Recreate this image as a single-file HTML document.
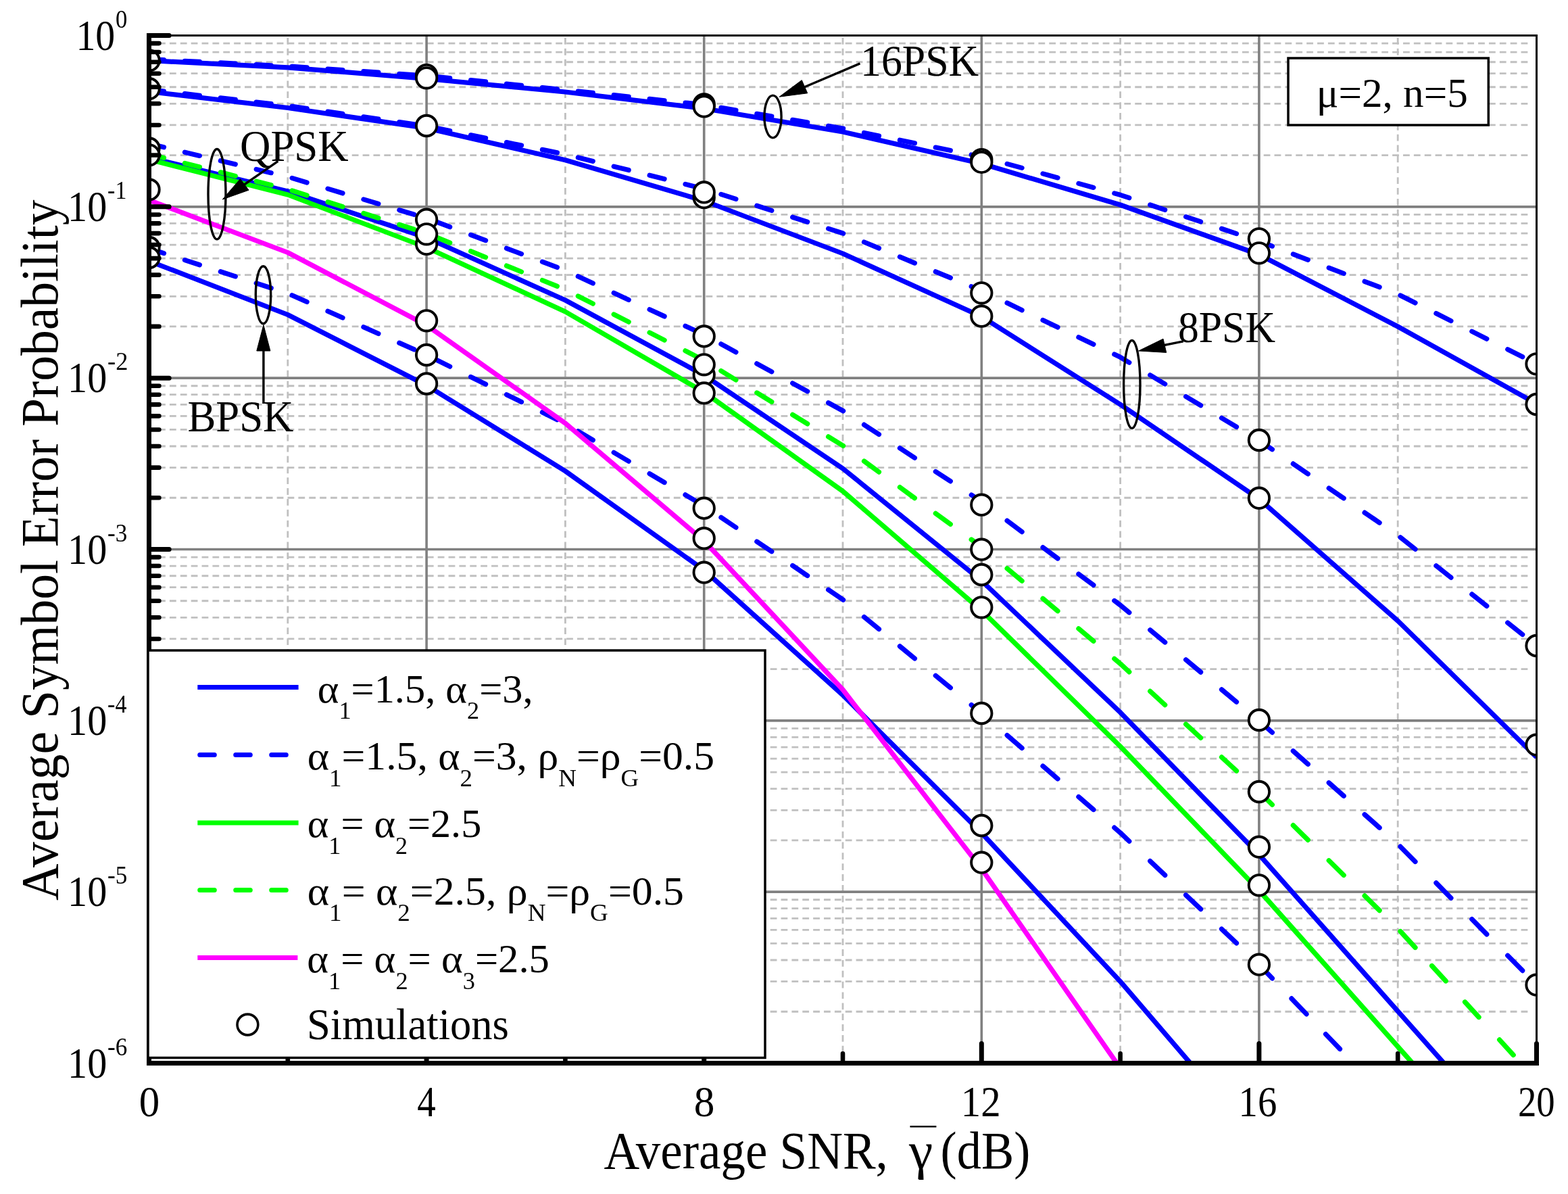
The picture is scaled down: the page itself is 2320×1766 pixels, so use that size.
<!DOCTYPE html><html><head><meta charset="utf-8"><title>Average Symbol Error Probability vs Average SNR</title>
<style>html,body{margin:0;padding:0;background:#fff;overflow:hidden}svg{display:block}</style></head><body>
<svg xmlns="http://www.w3.org/2000/svg" width="2320" height="1766" viewBox="0 0 2320 1766">
<defs><clipPath id="pc"><rect x="220.5" y="52.5" width="2053" height="1520"/></clipPath></defs>
<rect width="2320" height="1766" fill="#fff"/>
<path d="M219.2 229.57H2262M219.2 184.96H2262M219.2 153.31H2262M219.2 128.76H2262M219.2 108.7H2262M219.2 91.74H2262M219.2 77.05H2262M219.2 64.09H2262M219.2 482.91H2262M219.2 438.3H2262M219.2 406.64H2262M219.2 382.09H2262M219.2 362.04H2262M219.2 345.08H2262M219.2 330.38H2262M219.2 317.43H2262M219.2 736.24H2262M219.2 691.63H2262M219.2 659.98H2262M219.2 635.43H2262M219.2 615.37H2262M219.2 598.41H2262M219.2 583.72H2262M219.2 570.76H2262M219.2 989.57H2262M219.2 944.96H2262M219.2 913.31H2262M219.2 888.76H2262M219.2 868.7H2262M219.2 851.74H2262M219.2 837.05H2262M219.2 824.09H2262M219.2 1242.91H2262M219.2 1198.3H2262M219.2 1166.64H2262M219.2 1142.09H2262M219.2 1122.04H2262M219.2 1105.08H2262M219.2 1090.38H2262M219.2 1077.43H2262M219.2 1496.24H2262M219.2 1451.63H2262M219.2 1419.98H2262M219.2 1395.43H2262M219.2 1375.37H2262M219.2 1358.41H2262M219.2 1343.72H2262M219.2 1330.76H2262" stroke="#c0c0c0" stroke-width="2.8" stroke-dasharray="9.8 6.07" fill="none"/>
<path d="M425.8 1572.5V55M836.4 1572.5V55M1247 1572.5V55M1657.6 1572.5V55M2068.2 1572.5V55" stroke="#c0c0c0" stroke-width="2.8" stroke-dasharray="9.8 6.06" fill="none"/>
<path d="M220.5 305.83H2273.5M220.5 559.17H2273.5M220.5 812.5H2273.5M220.5 1065.83H2273.5M220.5 1319.17H2273.5M631.1 52.5V1572.5M1041.7 52.5V1572.5M1452.3 52.5V1572.5M1862.9 52.5V1572.5" stroke="#808080" stroke-width="3.6" fill="none"/>
<g clip-path="url(#pc)">
<path d="M220.5 89.5 L425.8 99.8 L631.1 116.5 L836.4 136 L1041.7 160.5 L1247 195 L1452.3 242 L1657.6 303 L1862.9 376.5 L2068.2 483 L2273.5 597" stroke="#0000ff" stroke-width="7.2" fill="none" stroke-linejoin="round"/>
<path d="M220.5 135.5 L425.8 159.5 L631.1 189.5 L836.4 236.7 L1041.7 297 L1247 375 L1452.3 468.3 L1657.6 598.3 L1862.9 738 L2068.2 918.3 L2273.5 1120" stroke="#0000ff" stroke-width="7.2" fill="none" stroke-linejoin="round"/>
<path d="M220.5 233 L425.8 283 L631.1 351.5 L836.4 444 L1041.7 555 L1247 693 L1452.3 859 L1657.6 1053.7 L1862.9 1264 L2068.2 1495.6 L2273.5 1727" stroke="#0000ff" stroke-width="7.2" fill="none" stroke-linejoin="round"/>
<path d="M220.5 386 L425.8 465.5 L631.1 570 L836.4 696.7 L1041.7 843.3 L1247 1028 L1452.3 1232 L1657.6 1451.7 L1862.9 1691" stroke="#0000ff" stroke-width="7.2" fill="none" stroke-linejoin="round"/>
<path d="M220.5 87.6 L242.5 88.71M273.4 90.28 L295.4 91.39M326.3 92.96 L348.3 94.07M379.2 95.64 L401.2 96.75M432.1 98.43 L454.1 99.93M485 102.04 L507 103.54M537.9 105.64 L559.9 107.14M590.8 109.25 L612.8 110.75M643.7 113.29 L665.7 115.54M696.6 118.7 L718.6 120.95M749.5 124.11 L771.5 126.36M802.4 129.52 L824.4 131.77M855.3 135.03 L877.3 137.38M908.2 140.69 L930.2 143.05M961.1 146.36 L983.1 148.72M1014 152.03 L1036 154.39M1066.9 159.3 L1088.9 163.05M1119.8 168.31 L1141.8 172.07M1172.7 177.33 L1194.7 181.08M1225.6 186.35 L1247 190 L1247.6 190.12M1278.5 196.44 L1300.5 200.94M1331.4 207.27 L1353.4 211.77M1384.3 218.09 L1406.3 222.59M1437.2 228.91 L1452.3 232 L1459.2 233.89M1490.1 242.37 L1512.1 248.4M1543 256.87 L1565 262.91M1595.9 271.38 L1617.9 277.41M1648.8 285.89 L1657.6 288.3 L1670.8 292.7M1701.7 302.99 L1723.7 310.32M1754.6 320.62 L1776.6 327.95M1807.5 338.24 L1829.5 345.57M1860.4 355.87 L1862.9 356.7 L1882.4 364.14M1913.3 375.92 L1935.3 384.31M1966.2 396.1 L1988.2 404.49M2019.1 416.27 L2041.1 424.66M2072 436.91 L2094 447.98M2124.9 463.53 L2146.9 474.6M2177.8 490.15 L2199.8 501.22M2230.7 516.76 L2252.7 527.83" stroke="#0000ff" stroke-width="7.2" fill="none" stroke-linecap="round" stroke-linejoin="round"/>
<path d="M220.5 132.5 L242.5 135.07M273.4 138.68 L295.4 141.26M326.3 144.87 L348.3 147.44M379.2 151.05 L401.2 153.62M432.1 157.42 L454.1 160.64M485 165.15 L507 168.37M537.9 172.88 L559.9 176.1M590.8 180.61 L612.8 183.83M643.7 189.07 L665.7 193.54M696.6 199.84 L718.6 204.32M749.5 210.61 L771.5 215.09M802.4 221.38 L824.4 225.86M855.3 233 L877.3 238.46M908.2 246.14 L930.2 251.6M961.1 259.28 L983.1 264.74M1014 272.42 L1036 277.88M1066.9 287.36 L1088.9 294.4M1119.8 304.29 L1141.8 311.33M1172.7 321.22 L1194.7 328.26M1225.6 338.15 L1247 345 L1247.6 345.25M1278.5 358.04 L1300.5 367.15M1331.4 379.94 L1353.4 389.05M1384.3 401.85 L1406.3 410.95M1437.2 423.75 L1452.3 430 L1459.2 433.3M1490.1 448.1 L1512.1 458.63M1543 473.43 L1565 483.96M1595.9 498.76 L1617.9 509.29M1648.8 524.09 L1657.6 528.3 L1670.8 536.22M1701.7 554.76 L1723.7 567.97M1754.6 586.51 L1776.6 599.71M1807.5 618.25 L1829.5 631.46M1860.4 650 L1862.9 651.5 L1882.4 664.82M1913.3 685.92 L1935.3 700.94M1966.2 722.04 L1988.2 737.07M2019.1 758.17 L2041.1 773.19M2072 794.72 L2094 812.22M2124.9 836.8 L2146.9 854.3M2177.8 878.88 L2199.8 896.38M2230.7 920.96 L2252.7 938.46" stroke="#0000ff" stroke-width="7.2" fill="none" stroke-linecap="round" stroke-linejoin="round"/>
<path d="M220.5 212.5 L242.5 217.75M273.4 225.13 L295.4 230.38M326.3 237.75 L348.3 243M379.2 250.38 L401.2 255.63M432.1 263.38 L454.1 269.94M485 279.15 L507 285.71M537.9 294.92 L559.9 301.48M590.8 310.69 L612.8 317.24M643.7 327.44 L665.7 335.73M696.6 347.36 L718.6 355.65M749.5 367.28 L771.5 375.56M802.4 387.2 L824.4 395.48M855.3 408.75 L877.3 418.93M908.2 433.22 L930.2 443.4M961.1 457.7 L983.1 467.88M1014 482.18 L1036 492.36M1066.9 508.81 L1088.9 520.86M1119.8 537.8 L1141.8 549.85M1172.7 566.79 L1194.7 578.84M1225.6 595.77 L1247 607.5 L1247.6 607.89M1278.5 628.14 L1300.5 642.55M1331.4 662.79 L1353.4 677.21M1384.3 697.45 L1406.3 711.86M1437.2 732.11 L1452.3 742 L1459.2 747.14M1490.1 770.17 L1512.1 786.57M1543 809.59 L1565 825.99M1595.9 849.02 L1617.9 865.41M1648.8 888.44 L1657.6 895 L1670.8 905.99M1701.7 931.73 L1723.7 950.06M1754.6 975.79 L1776.6 994.12M1807.5 1019.86 L1829.5 1038.18M1860.4 1063.92 L1862.9 1066 L1882.4 1083.32M1913.3 1110.75 L1935.3 1130.29M1966.2 1157.73 L1988.2 1177.26M2019.1 1204.7 L2041.1 1224.24M2072 1252.16 L2094 1274.49M2124.9 1305.86 L2146.9 1328.19M2177.8 1359.55 L2199.8 1381.89M2230.7 1413.25 L2252.7 1435.59" stroke="#0000ff" stroke-width="7.2" fill="none" stroke-linecap="round" stroke-linejoin="round"/>
<path d="M220.5 367.5 L242.5 374.63M273.4 384.64 L295.4 391.76M326.3 401.77 L348.3 408.9M379.2 418.91 L401.2 426.03M432.1 436.79 L454.1 446.54M485 460.24 L507 469.99M537.9 483.69 L559.9 493.44M590.8 507.14 L612.8 516.89M643.7 531.24 L665.7 542.14M696.6 557.45 L718.6 568.35M749.5 583.65 L771.5 594.55M802.4 609.86 L824.4 620.76M855.3 637.89 L877.3 650.93M908.2 669.23 L930.2 682.26M961.1 700.56 L983.1 713.59M1014 731.89 L1036 744.92M1066.9 765.29 L1088.9 780.12M1119.8 800.95 L1141.8 815.78M1172.7 836.61 L1194.7 851.44M1225.6 872.27 L1247 886.7 L1247.6 887.19M1278.5 912.52 L1300.5 930.56M1331.4 955.89 L1353.4 973.92M1384.3 999.26 L1406.3 1017.29M1437.2 1042.62 L1452.3 1055 L1459.2 1060.94M1490.1 1087.53 L1512.1 1106.47M1543 1133.06 L1565 1152M1595.9 1178.6 L1617.9 1197.53M1648.8 1224.13 L1657.6 1231.7 L1670.8 1244.24M1701.7 1273.59 L1723.7 1294.48M1754.6 1323.83 L1776.6 1344.73M1807.5 1374.08 L1829.5 1394.98M1860.4 1424.33 L1862.9 1426.7 L1882.4 1447.05M1911 1476.91 L1933 1499.87M1961.5 1529.62 L1982.5 1551.54" stroke="#0000ff" stroke-width="7.2" fill="none" stroke-linecap="round" stroke-linejoin="round"/>
<path d="M220.5 236 L425.8 288 L631.1 366 L836.4 461 L1041.7 580 L1247 726.5 L1452.3 903 L1657.6 1104 L1862.9 1317 L2068.2 1548 L2273.5 1779" stroke="#00ff00" stroke-width="7.2" fill="none" stroke-linejoin="round"/>
<path d="M220.5 228 L242.5 233.57M273.4 241.4 L295.4 246.97M326.3 254.8 L348.3 260.37M379.2 268.2 L401.2 273.77M432.1 281.99 L454.1 288.96M485 298.74 L507 305.71M537.9 315.49 L559.9 322.46M590.8 332.24 L612.8 339.21M643.7 350.11 L665.7 359.04M696.6 371.58 L718.6 380.5M749.5 393.04 L771.5 401.97M802.4 414.5 L824.4 423.43M855.3 437.94 L877.3 449.16M908.2 464.92 L930.2 476.14M961.1 491.9 L983.1 503.11M1014 518.87 L1036 530.09M1066.9 548.47 L1088.9 561.97M1119.8 580.93 L1141.8 594.43M1172.7 613.4 L1194.7 626.9M1225.6 645.87 L1247 659 L1247.6 659.44M1278.5 682.02 L1300.5 698.09M1331.4 720.67 L1353.4 736.74M1384.3 759.32 L1406.3 775.39M1437.2 797.97 L1452.3 809 L1459.2 814.8M1490.1 840.8 L1512.1 859.3M1543 885.3 L1565 903.8M1595.9 929.8 L1617.9 948.3M1648.8 974.3 L1657.6 981.7 L1670.8 993.87M1701.7 1022.36 L1723.7 1042.65M1754.6 1071.14 L1776.6 1091.43M1807.5 1119.92 L1829.5 1140.2M1860.4 1168.69 L1862.9 1171 L1882.4 1190.22M1913.3 1220.66 L1935.3 1242.34M1966.2 1272.79 L1988.2 1294.47M2019.1 1324.92 L2041.1 1346.6M2072 1377.46 L2094 1401.54M2118.6 1428.46 L2139.2 1451.01M2167.5 1481.98 L2188.1 1504.53M2218.6 1537.91 L2239.2 1560.46" stroke="#00ff00" stroke-width="7.2" fill="none" stroke-linecap="round" stroke-linejoin="round"/>
<path d="M220.5 296 L425.8 373.5 L631.1 481 L836.4 626 L1041.7 800 L1247 1020 L1452.3 1285 L1657.6 1580" stroke="#ff00ff" stroke-width="7.2" fill="none" stroke-linejoin="round"/>
<g fill="#fff" stroke="#000" stroke-width="3.9"><circle cx="220.5" cy="89.4" r="15.2"/><circle cx="220.5" cy="131.2" r="15.2"/><circle cx="220.5" cy="219.5" r="15.2"/><circle cx="220.5" cy="229.3" r="15.2"/><circle cx="220.5" cy="280.4" r="15.2"/><circle cx="220.5" cy="366" r="15.2"/><circle cx="220.5" cy="381" r="15.2"/><circle cx="631.1" cy="111.1" r="15.2"/><circle cx="631.1" cy="115.3" r="15.2"/><circle cx="631.1" cy="186" r="15.2"/><circle cx="631.1" cy="324.7" r="15.2"/><circle cx="631.1" cy="360.9" r="15.2"/><circle cx="631.1" cy="346.3" r="15.2"/><circle cx="631.1" cy="474.3" r="15.2"/><circle cx="631.1" cy="525" r="15.2"/><circle cx="631.1" cy="567.5" r="15.2"/><circle cx="1041.7" cy="154.3" r="15.2"/><circle cx="1041.7" cy="157.4" r="15.2"/><circle cx="1041.7" cy="292.2" r="15.2"/><circle cx="1041.7" cy="284.4" r="15.2"/><circle cx="1041.7" cy="497.4" r="15.2"/><circle cx="1041.7" cy="554.3" r="15.2"/><circle cx="1041.7" cy="539.3" r="15.2"/><circle cx="1041.7" cy="581.4" r="15.2"/><circle cx="1041.7" cy="751.7" r="15.2"/><circle cx="1041.7" cy="796.2" r="15.2"/><circle cx="1041.7" cy="846.7" r="15.2"/><circle cx="1452.3" cy="236.1" r="15.2"/><circle cx="1452.3" cy="239.9" r="15.2"/><circle cx="1452.3" cy="433.3" r="15.2"/><circle cx="1452.3" cy="467.7" r="15.2"/><circle cx="1452.3" cy="746.7" r="15.2"/><circle cx="1452.3" cy="812.7" r="15.2"/><circle cx="1452.3" cy="850" r="15.2"/><circle cx="1452.3" cy="898.3" r="15.2"/><circle cx="1452.3" cy="1055" r="15.2"/><circle cx="1452.3" cy="1221" r="15.2"/><circle cx="1452.3" cy="1275.7" r="15.2"/><circle cx="1862.9" cy="353.3" r="15.2"/><circle cx="1862.9" cy="374.3" r="15.2"/><circle cx="1862.9" cy="651" r="15.2"/><circle cx="1862.9" cy="736.7" r="15.2"/><circle cx="1862.9" cy="1065" r="15.2"/><circle cx="1862.9" cy="1171" r="15.2"/><circle cx="1862.9" cy="1252.7" r="15.2"/><circle cx="1862.9" cy="1309.3" r="15.2"/><circle cx="1862.9" cy="1426.7" r="15.2"/><circle cx="2273.5" cy="538.3" r="15.2"/><circle cx="2273.5" cy="598" r="15.2"/><circle cx="2273.5" cy="955" r="15.2"/><circle cx="2273.5" cy="1101.7" r="15.2"/><circle cx="2273.5" cy="1456.7" r="15.2"/></g>
</g>
<path d="M217 52.5H2275" stroke="#000" stroke-width="3" fill="none"/><path d="M2273.5 51V1572.5" stroke="#000" stroke-width="3" fill="none"/><path d="M220.5 49V1576" stroke="#000" stroke-width="7" fill="none"/><path d="M217 1572.5H2277" stroke="#000" stroke-width="7" fill="none"/><path d="M220.5 52.5H250.2M220.5 305.83H250.2M220.5 559.17H250.2M220.5 812.5H250.2M220.5 1065.83H250.2M220.5 1319.17H250.2M220.5 1572.5H250.2M220.5 1572.5V1543.5M631.1 1572.5V1543.5M1041.7 1572.5V1543.5M1452.3 1572.5V1543.5M1862.9 1572.5V1543.5M2273.5 1572.5V1543.5" stroke="#000" stroke-width="7" fill="none" stroke-linecap="round"/><path d="M220.5 229.57H235.4M220.5 184.96H235.4M220.5 153.31H235.4M220.5 128.76H235.4M220.5 108.7H235.4M220.5 91.74H235.4M220.5 77.05H235.4M220.5 64.09H235.4M220.5 482.91H235.4M220.5 438.3H235.4M220.5 406.64H235.4M220.5 382.09H235.4M220.5 362.04H235.4M220.5 345.08H235.4M220.5 330.38H235.4M220.5 317.43H235.4M220.5 736.24H235.4M220.5 691.63H235.4M220.5 659.98H235.4M220.5 635.43H235.4M220.5 615.37H235.4M220.5 598.41H235.4M220.5 583.72H235.4M220.5 570.76H235.4M220.5 989.57H235.4M220.5 944.96H235.4M220.5 913.31H235.4M220.5 888.76H235.4M220.5 868.7H235.4M220.5 851.74H235.4M220.5 837.05H235.4M220.5 824.09H235.4M220.5 1242.91H235.4M220.5 1198.3H235.4M220.5 1166.64H235.4M220.5 1142.09H235.4M220.5 1122.04H235.4M220.5 1105.08H235.4M220.5 1090.38H235.4M220.5 1077.43H235.4M220.5 1496.24H235.4M220.5 1451.63H235.4M220.5 1419.98H235.4M220.5 1395.43H235.4M220.5 1375.37H235.4M220.5 1358.41H235.4M220.5 1343.72H235.4M220.5 1330.76H235.4M425.8 1572.5V1558.3M836.4 1572.5V1558.3M1247 1572.5V1558.3M1657.6 1572.5V1558.3M2068.2 1572.5V1558.3" stroke="#000" stroke-width="6.6" fill="none" stroke-linecap="round"/>
<g fill="none" stroke="#000" stroke-width="3.4"><ellipse cx="321" cy="287.2" rx="13" ry="66.7"/><ellipse cx="389.5" cy="436.3" rx="11.2" ry="42.5"/><ellipse cx="1143.5" cy="172.5" rx="12.6" ry="31.4"/><ellipse cx="1674.8" cy="568.5" rx="12.2" ry="65"/><path d="M411.4 238.3L350 281"/><path d="M389.9 597V515"/><path d="M1272.5 93.9L1185 131"/><path d="M1750.7 504.8L1715 512"/></g><g fill="#000" stroke="#000" stroke-width="1" stroke-linejoin="miter"><path d="M329.3 294.9L355.5 264.5L368 281.2Z"/><path d="M389.9 480.5L379.8 519L399.9 519Z"/><path d="M1153.1 143.2L1186.3 118.6L1194.7 137.8Z"/><path d="M1684.6 519L1721 501.2L1725.7 521.4Z"/></g>
<rect x="219" y="962" width="913" height="602.5" fill="#fff" stroke="#000" stroke-width="3.5"/><path d="M292.3 1016.6H441.6" stroke="#0000ff" stroke-width="7" stroke-linecap="butt"/><path d="M295.7 1116.5H317.3M348.7 1116.5H370.3M401.7 1116.5H423.3" stroke="#0000ff" stroke-width="7" stroke-linecap="round"/><path d="M292.3 1217H441.6" stroke="#00ff00" stroke-width="7"/><path d="M295.7 1316.5H317.3M348.7 1316.5H370.3M401.7 1316.5H423.3" stroke="#00ff00" stroke-width="7" stroke-linecap="round"/><path d="M292.3 1416.4H440.4" stroke="#ff00ff" stroke-width="7"/><circle cx="366.4" cy="1515.5" r="15.4" fill="#fff" stroke="#000" stroke-width="3.6"/>
<rect x="1906" y="86" width="296.3" height="99" fill="#fff" stroke="#000" stroke-width="3.5"/>
<g font-family="'Liberation Serif', 'Times New Roman', serif" fill="#000"><text transform="translate(112.43 73.8) scale(0.9109 1)" font-size="63.5">10</text><text transform="translate(171.07 40.8) scale(0.9250 1)" font-size="37.5">0</text><text transform="translate(100.1 327.13) scale(0.9164 1)" font-size="63.5">10</text><text transform="translate(159.1 294.13) scale(0.9036 1)" font-size="37.5">-1</text><text transform="translate(100.1 580.47) scale(0.9164 1)" font-size="63.5">10</text><text transform="translate(159.03 547.47) scale(0.9714 1)" font-size="37.5">-2</text><text transform="translate(100.1 833.8) scale(0.9164 1)" font-size="63.5">10</text><text transform="translate(159.06 800.8) scale(0.9379 1)" font-size="37.5">-3</text><text transform="translate(100.1 1087.13) scale(0.9164 1)" font-size="63.5">10</text><text transform="translate(159.09 1054.13) scale(0.9067 1)" font-size="37.5">-4</text><text transform="translate(100.1 1340.47) scale(0.9164 1)" font-size="63.5">10</text><text transform="translate(159.06 1307.47) scale(0.9379 1)" font-size="37.5">-5</text><text transform="translate(100.1 1593.8) scale(0.9164 1)" font-size="63.5">10</text><text transform="translate(159.06 1560.8) scale(0.9379 1)" font-size="37.5">-6</text><text transform="translate(205.63 1650.9) scale(0.9593 1)" font-size="63.5">0</text><text transform="translate(617.23 1650.9) scale(0.8667 1)" font-size="63.5">4</text><text transform="translate(1026.77 1650.9) scale(0.9630 1)" font-size="63.5">8</text><text transform="translate(1421.74 1650.9) scale(0.9259 1)" font-size="63.5">12</text><text transform="translate(1832.54 1650.9) scale(0.8929 1)" font-size="63.5">16</text><text transform="translate(2245.91 1650.9) scale(0.8621 1)" font-size="63.5">20</text><text transform="translate(355.04 238.3) scale(0.9521 1)" font-size="66">QPSK</text><text transform="translate(277.4 638) scale(0.9515 1)" font-size="66">BPSK</text><text transform="translate(1273.08 112.4) scale(0.9365 1)" font-size="66">16PSK</text><text transform="translate(1742.93 506) scale(0.9355 1)" font-size="66">8PSK</text><text transform="translate(1947.65 157.9) scale(1.0093 1)" font-size="60.6">μ=2, n=5</text><text transform="translate(469.79 1038.5) scale(1.0071 1)" font-size="60">α<tspan dy="24.5" font-size="36">1</tspan><tspan dy="-24.5">=1.5, α<tspan dy="24.5" font-size="36">2</tspan><tspan dy="-24.5">=3,</tspan></tspan></text><text transform="translate(454.75 1138.2) scale(1.0275 1)" font-size="60">α<tspan dy="24.5" font-size="36">1</tspan><tspan dy="-24.5">=1.5, α<tspan dy="24.5" font-size="36">2</tspan><tspan dy="-24.5">=3, ρ<tspan dy="24.5" font-size="36">N</tspan><tspan dy="-24.5">=ρ<tspan dy="24.5" font-size="36">G</tspan><tspan dy="-24.5">=0.5</tspan></tspan></tspan></tspan></text><text transform="translate(454.79 1238.2) scale(1.0036 1)" font-size="60">α<tspan dy="24.5" font-size="36">1</tspan><tspan dy="-24.5">= α<tspan dy="24.5" font-size="36">2</tspan><tspan dy="-24.5">=2.5</tspan></tspan></text><text transform="translate(454.74 1337.6) scale(1.0300 1)" font-size="60">α<tspan dy="24.5" font-size="36">1</tspan><tspan dy="-24.5">= α<tspan dy="24.5" font-size="36">2</tspan><tspan dy="-24.5">=2.5, ρ<tspan dy="24.5" font-size="36">N</tspan><tspan dy="-24.5">=ρ<tspan dy="24.5" font-size="36">G</tspan><tspan dy="-24.5">=0.5</tspan></tspan></tspan></tspan></text><text transform="translate(454.28 1438.2) scale(1.0109 1)" font-size="60">α<tspan dy="24.5" font-size="36">1</tspan><tspan dy="-24.5">= α<tspan dy="24.5" font-size="36">2</tspan><tspan dy="-24.5">= α<tspan dy="24.5" font-size="36">3</tspan><tspan dy="-24.5">=2.5</tspan></tspan></tspan></text><text transform="translate(454.01 1536.8) scale(0.9479 1)" font-size="66">Simulations</text><text transform="translate(893.46 1728.2) scale(0.9423 1)" font-size="77.5">Average SNR,</text><text transform="translate(1345 1728.2) scale(1.0281 1)" font-size="77.5">γ</text><text transform="translate(1391.6 1728.2) scale(0.9338 1)" font-size="77.5">(dB)</text><text transform="translate(85.3 1331.97) rotate(-90) scale(0.9656 1)" font-size="78.2">Average Symbol Error Probability</text></g>
<path d="M1346.5 1666.3H1385.4" stroke="#000" stroke-width="2.6"/>
</svg></body></html>
